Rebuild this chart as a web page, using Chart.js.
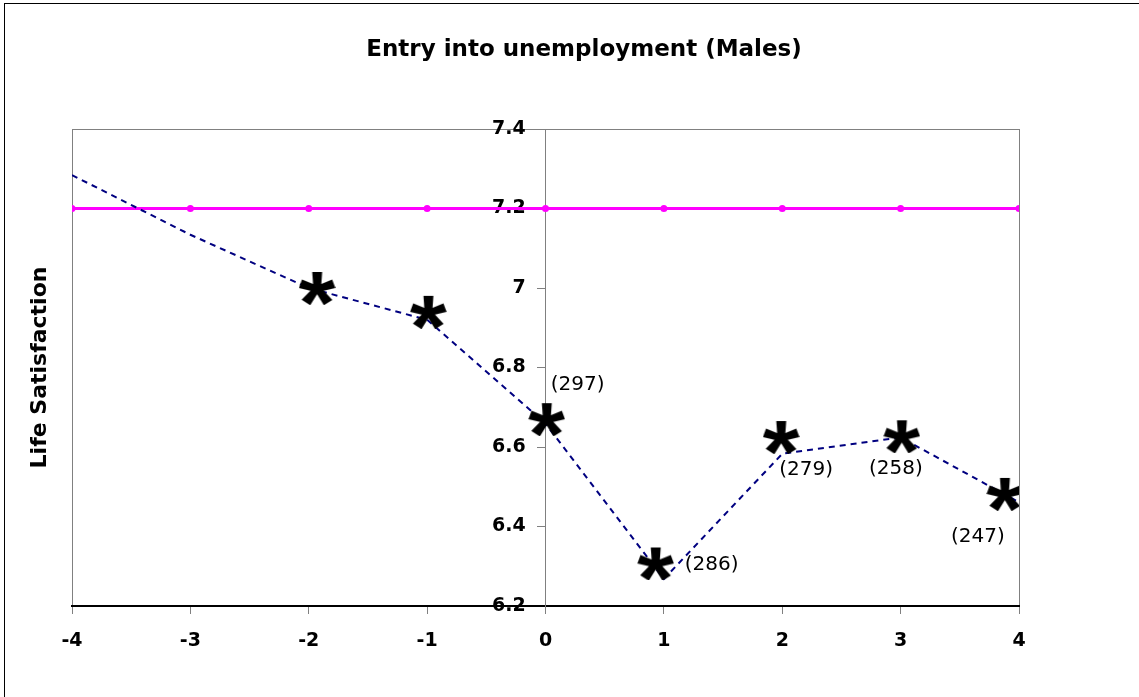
<!DOCTYPE html>
<html>
<head>
<meta charset="utf-8">
<script src="https://cdn.jsdelivr.net/npm/chart.js@4.4.1/dist/chart.umd.min.js"></script>
<style>
  body { margin: 0; background: #fff; }
  #wrap { position: relative; width: 1139px; height: 697px; overflow: hidden; }
  #frame { position: absolute; left: 4px; top: 3px; right: -10px; bottom: -10px; border-left: 1px solid #000; border-top: 1px solid #000; }
  #myChart { position: absolute; left: 0; top: 0; }
</style>
</head>
<body>
<div id="wrap">
  <div id="frame"></div>
  <canvas id="myChart" width="1139" height="697"></canvas>
</div>
<script>
const xTicks = [-4, -3, -2, -1, 0, 1, 2, 3, 4];
const xTickLabels = ["-4", "-3", "-2", "-1", "0", "1", "2", "3", "4"];
const yTickLabels = ["6.2", "6.4", "6.6", "6.8", "7", "7.2", "7.4"];

// mean life satisfaction path (dashed)
const pathValues = [7.284, 7.134, 7.0, 6.92, 6.659, 6.268, 6.583, 6.624, 6.461];
// reference level (magenta)
const refValues = [7.2, 7.2, 7.2, 7.2, 7.2, 7.2, 7.2, 7.2, 7.2];

// asterisks and their counts
const starX = [-1.93, -0.99, 0.01, 0.93, 1.99, 3.01, 3.88];
const starY = [7.0, 6.94, 6.67, 6.307, 6.625, 6.627, 6.482];
const starLabels = ["", "", "(297)", "(286)", "(279)", "(258)", "(247)"];

Chart.defaults.font.family = "DejaVu Sans";
Chart.defaults.color = "#000";

function makeStar(w, h) {
  const c = document.createElement("canvas");
  c.width = w;
  c.height = h;
  const g = c.getContext("2d");
  g.font = 'bold 100px "Liberation Sans"';
  const m = g.measureText("*");
  const bw = m.actualBoundingBoxLeft + m.actualBoundingBoxRight;
  const bh = m.actualBoundingBoxAscent + m.actualBoundingBoxDescent;
  g.scale(w / bw, h / bh);
  g.fillStyle = "#000";
  g.fillText("*", m.actualBoundingBoxLeft, m.actualBoundingBoxAscent);
  return c;
}
const star = makeStar(37, 34);

const labelOffsets = [null, null, [31, -34], [56, 1], [25, 33], [-6, 33], [-27, 43]];

const countLabels = {
  id: "countLabels",
  afterDatasetsDraw(chart) {
    const ctx = chart.ctx;
    const meta = chart.getDatasetMeta(0);
    ctx.save();
    ctx.font = '20px "DejaVu Sans"';
    ctx.fillStyle = "#000";
    ctx.textAlign = "center";
    ctx.textBaseline = "middle";
    meta.data.forEach((pt, i) => {
      if (!starLabels[i]) return;
      const off = labelOffsets[i];
      ctx.fillText(starLabels[i], pt.x + off[0], pt.y + off[1]);
    });
    ctx.restore();
  },
};

const gray = "#808080";

new Chart(document.getElementById("myChart"), {
  type: "line",
  data: {
    datasets: [
      {
        label: "stars",
        data: starX.map((x, i) => ({ x: x, y: starY[i] })),
        showLine: false,
        pointStyle: star,
        pointRadius: 12,
        yAxisID: "y",
      },
      {
        label: "path",
        data: xTicks.map((x, i) => ({ x: x, y: pathValues[i] })),
        borderColor: "#000080",
        borderWidth: 2,
        borderDash: [6, 5],
        pointRadius: 0,
        tension: 0,
        fill: false,
        yAxisID: "y",
      },
      {
        label: "reference",
        data: xTicks.map((x, i) => ({ x: x, y: refValues[i] })),
        borderColor: "#ff00ff",
        backgroundColor: "#ff00ff",
        borderWidth: 3,
        pointStyle: "circle",
        pointRadius: 3.5,
        pointBorderWidth: 0,
        tension: 0,
        fill: false,
        yAxisID: "y",
      },
    ],
  },
  options: {
    responsive: false,
    animation: false,
    events: [],
    layout: { padding: { top: 10, left: 29, right: 0, bottom: 29 } },
    plugins: {
      legend: { display: false },
      tooltip: { enabled: false },
      title: {
        display: true,
        text: "Entry into unemployment (Males)",
        font: { size: 23, weight: "bold" },
        color: "#000",
        padding: { top: 26.2, bottom: 65.2 },
      },
    },
    scales: {
      x: {
        type: "linear",
        min: -4,
        max: 4,
        ticks: {
          stepSize: 1,
          padding: 15.6,
          font: { size: 19, weight: "bold" },
          callback: (v) => xTickLabels[xTicks.indexOf(v)],
        },
        grid: {
          drawOnChartArea: true,
          tickLength: 8,
          tickColor: gray,
          color: (c) => (c.tick && (c.tick.value === -4 || c.tick.value === 4) ? gray : "rgba(0,0,0,0)"),
        },
        border: { color: "#000", width: 2 },
      },
      y: {
        type: "linear",
        axis: "y",
        position: { x: 0 },
        min: 6.2,
        max: 7.4,
        ticks: {
          stepSize: 0.2,
          font: { size: 19, weight: "bold" },
          callback: (v, i) => yTickLabels[i] + "   ",
        },
        grid: {
          drawOnChartArea: true,
          tickLength: 8,
          tickColor: gray,
          color: (c) => (c.tick && Math.abs(c.tick.value - 7.4) < 1e-6 ? gray : "rgba(0,0,0,0)"),
        },
        border: { color: gray, width: 1 },
      },
      yTitle: {
        type: "linear",
        axis: "y",
        position: "left",
        display: true,
        ticks: { display: false },
        grid: { display: false, drawTicks: false },
        border: { display: false },
        afterFit: (scale) => { scale.width = 43; },
        title: {
          display: true,
          text: "Life Satisfaction",
          font: { size: 22, weight: "bold", lineHeight: 1 },
          color: "#000",
          padding: { top: 0, bottom: 21 },
        },
      },
      ySpace: {
        type: "linear",
        axis: "y",
        position: "right",
        display: true,
        ticks: { display: false },
        grid: { display: false, drawTicks: false },
        border: { display: false },
        afterFit: (scale) => { scale.width = 120; },
      },
    },
  },
  plugins: [countLabels],
});
</script>
</body>
</html>
